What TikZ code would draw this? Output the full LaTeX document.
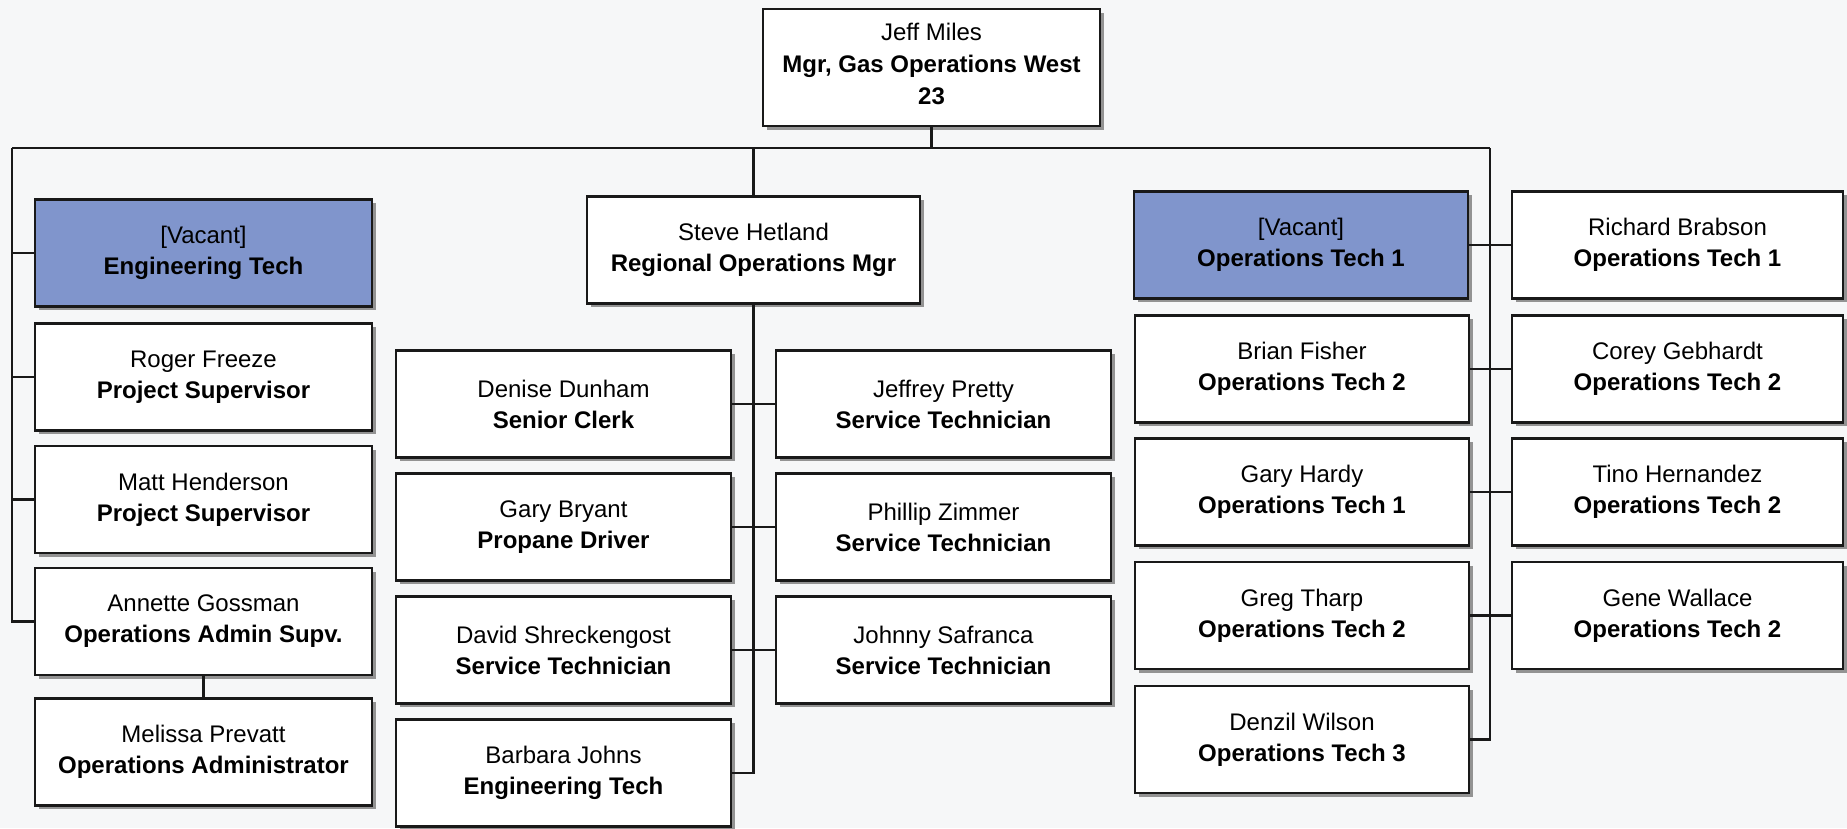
\documentclass[tikz,border=0pt]{standalone}
\usepackage{fontspec}
\setmainfont{Liberation Sans}
\usetikzlibrary{shadows}
\definecolor{vacfill}{RGB}{128,149,204}
\definecolor{bg}{RGB}{246,247,248}
\definecolor{ln}{RGB}{25,25,25}
\begin{document}
\begin{tikzpicture}[x=1pt,y=-1pt,
  box/.style={draw=ln, line width=2.2pt, fill=white, minimum width=337pt, minimum height=107pt,
    inner sep=0pt, align=center, font=\fontsize{24}{31}\selectfont,
    drop shadow={shadow xshift=3.5pt, shadow yshift=-3.5pt, fill=gray!85, opacity=1}},
  vacbox/.style={box, fill=vacfill},
  conn/.style={draw=ln, line width=2.2pt}]
\path[use as bounding box, fill=bg] (0,0) rectangle (1847,828);

% top
\node[box, minimum height=117pt, font=\fontsize{24}{32}\selectfont] (jeff) at (931.5,67.5)
  {Jeff Miles\\\textbf{Mgr, Gas Operations West}\\\textbf{23}\\[-24pt]\mbox{}};

% left column
\node[vacbox] (eng) at (203.5,253) {[Vacant]\\\textbf{Engineering Tech}};
\node[box] (roger) at (203.5,377) {Roger Freeze\\\textbf{Project Supervisor}};
\node[box] (matt) at (203.5,499.5) {Matt Henderson\\\textbf{Project Supervisor}};
\node[box] (annette) at (203.5,621.5) {Annette Gossman\\\textbf{Operations Admin Supv.}};
\node[box] (melissa) at (203.5,752) {Melissa Prevatt\\\textbf{Operations Administrator}};

% middle
\node[box, minimum width=333pt] (steve) at (753.5,250) {Steve Hetland\\\textbf{Regional Operations Mgr}};
\node[box, minimum width=335pt] (denise) at (563.5,404) {Denise Dunham\\\textbf{Senior Clerk}};
\node[box, minimum width=335pt] (garyb) at (563.5,527) {Gary Bryant\\\textbf{Propane Driver}};
\node[box, minimum width=335pt] (david) at (563.5,650) {David Shreckengost\\\textbf{Service Technician}};
\node[box, minimum width=335pt] (barbara) at (563.5,773) {Barbara Johns\\\textbf{Engineering Tech}};
\node[box, minimum width=335pt] (jeffrey) at (943.5,404) {Jeffrey Pretty\\\textbf{Service Technician}};
\node[box, minimum width=335pt] (phillip) at (943.5,527) {Phillip Zimmer\\\textbf{Service Technician}};
\node[box, minimum width=335pt] (johnny) at (943.5,650) {Johnny Safranca\\\textbf{Service Technician}};

% right
\node[vacbox, minimum width=334pt] (rvac) at (1301,245) {[Vacant]\\\textbf{Operations Tech 1}};
\node[box, minimum width=334pt] (brian) at (1302,369) {Brian Fisher\\\textbf{Operations Tech 2}};
\node[box, minimum width=334pt] (hardy) at (1302,492) {Gary Hardy\\\textbf{Operations Tech 1}};
\node[box, minimum width=334pt] (tharp) at (1302,615.5) {Greg Tharp\\\textbf{Operations Tech 2}};
\node[box, minimum width=334pt] (denzil) at (1302,739.5) {Denzil Wilson\\\textbf{Operations Tech 3}};
\node[box, minimum width=331pt] (richard) at (1677.5,245) {Richard Brabson\\\textbf{Operations Tech 1}};
\node[box, minimum width=331pt] (corey) at (1677.5,369) {Corey Gebhardt\\\textbf{Operations Tech 2}};
\node[box, minimum width=331pt] (tino) at (1677.5,492) {Tino Hernandez\\\textbf{Operations Tech 2}};
\node[box, minimum width=331pt] (gene) at (1677.5,615.5) {Gene Wallace\\\textbf{Operations Tech 2}};

% connectors
\coordinate (busL) at (12,148);
\coordinate (busR) at (1490,148);
\draw[conn] (jeff.south) -- (jeff.south |- busL);
\draw[conn] (busL) -- (busR);
\draw[conn] (busL) |- (annette.west);
\draw[conn] (eng.west) -- (eng.west -| busL);
\draw[conn] (roger.west) -- (roger.west -| busL);
\draw[conn] (matt.west) -- (matt.west -| busL);
\draw[conn] (annette.south) -- (melissa.north);

\draw[conn] (steve.north |- busL) -- (steve.north);
\draw[conn] (steve.south) -- (steve.south |- barbara.east) -- (barbara.east);
\draw[conn] (denise.east) -- (jeffrey.west);
\draw[conn] (garyb.east) -- (phillip.west);
\draw[conn] (david.east) -- (johnny.west);

\draw[conn] (busR) |- (denzil.east);
\draw[conn] (rvac.east) -- (richard.west);
\draw[conn] (brian.east) -- (corey.west);
\draw[conn] (hardy.east) -- (tino.west);
\draw[conn] (tharp.east) -- (gene.west);
\end{tikzpicture}
\end{document}
